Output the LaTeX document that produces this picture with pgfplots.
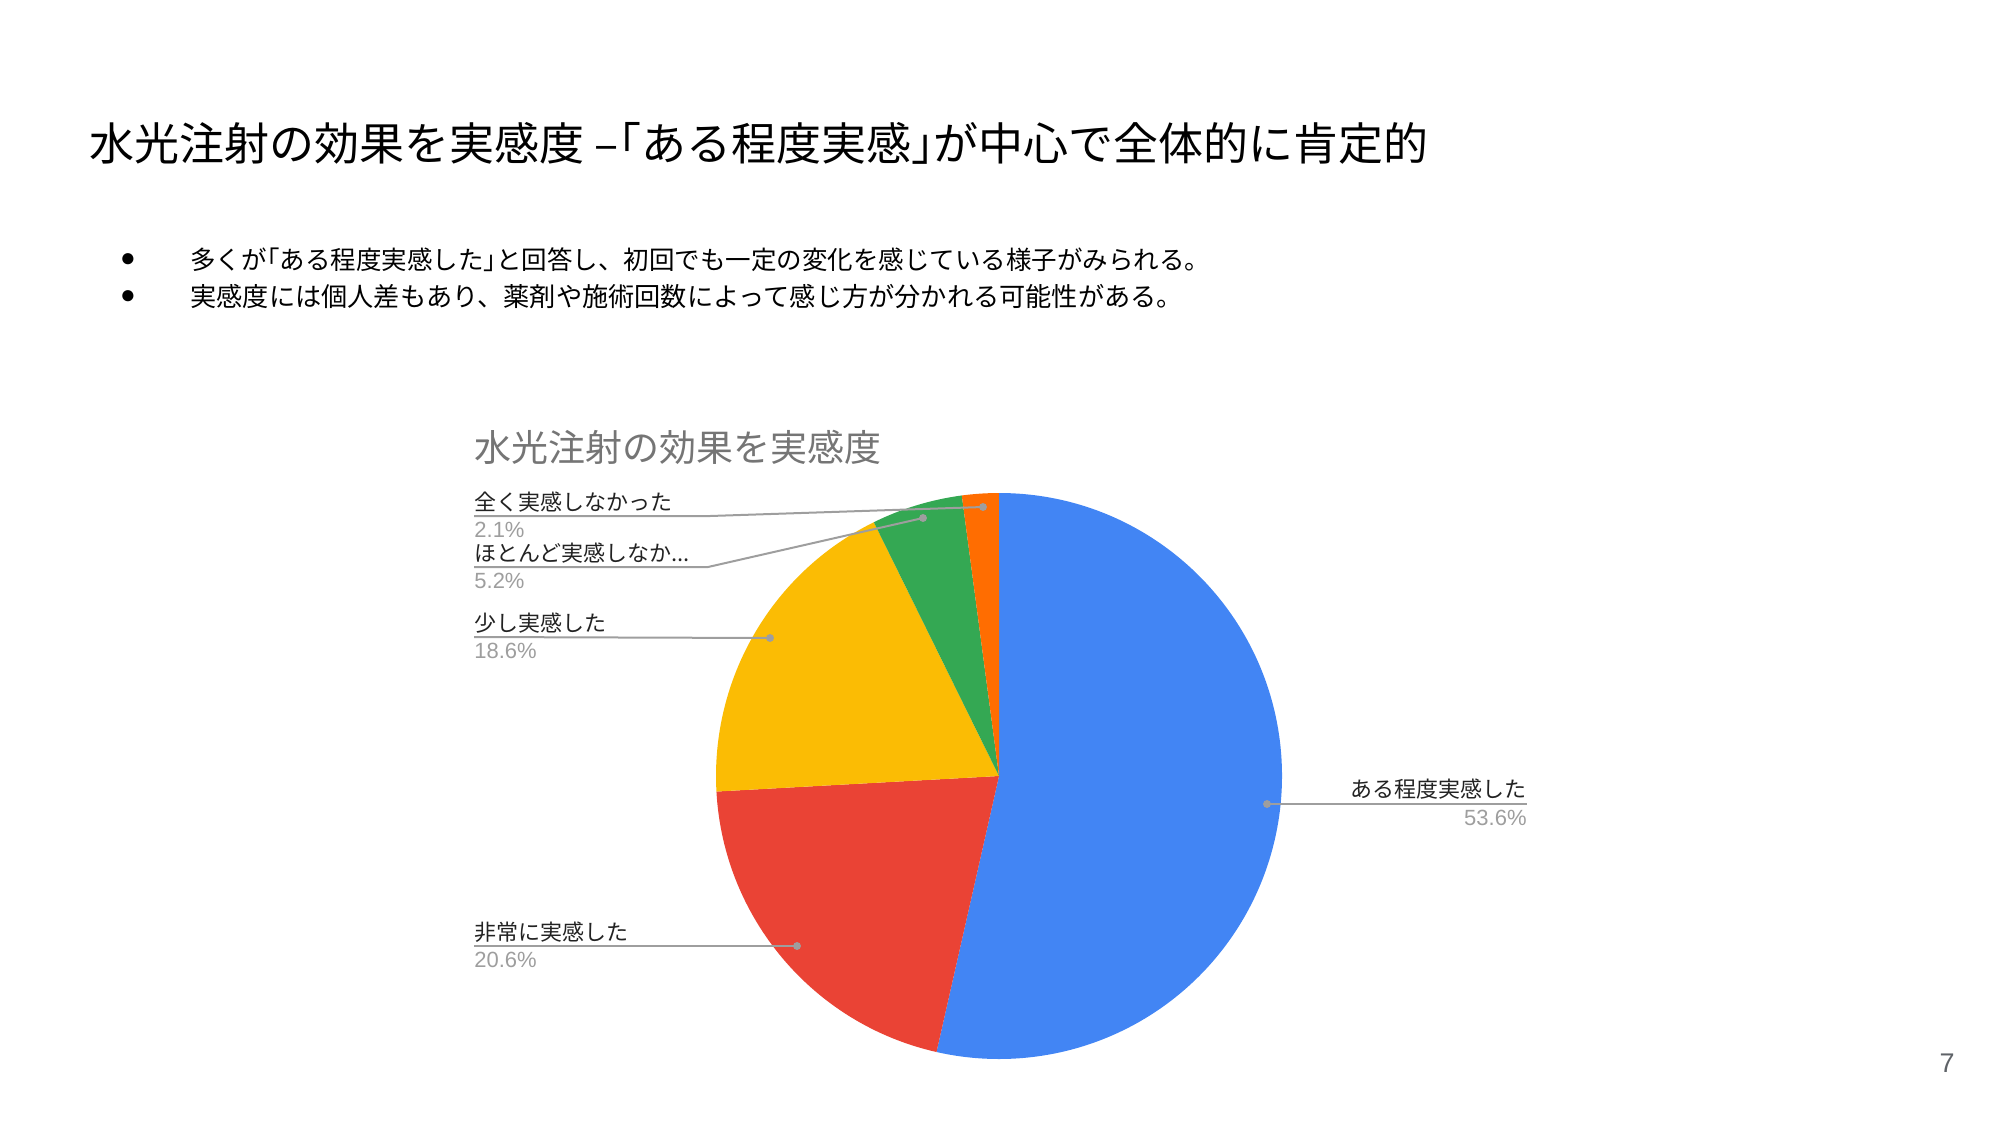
\documentclass[border=0pt]{standalone}
\usepackage{fontspec}
\setmainfont{Noto Sans CJK JP}
\newfontfamily\latinfont{Liberation Sans}
\newcommand\hw[1]{{\addfontfeatures{RawFeature=+halt}#1}}
\usepackage{pgfplots}
\usepackage{pgfplotstable}
\pgfplotsset{compat=1.18}

\definecolor{slice0}{HTML}{4285F4}
\definecolor{slice1}{HTML}{EA4335}
\definecolor{slice2}{HTML}{FBBC04}
\definecolor{slice3}{HTML}{34A853}
\definecolor{slice4}{HTML}{FF6D01}
\definecolor{leader}{HTML}{9E9E9E}
\definecolor{labeltxt}{HTML}{222222}
\definecolor{pcttxt}{HTML}{9E9E9E}
\definecolor{ctitle}{HTML}{757575}
\definecolor{pagenum}{HTML}{5F6368}

% share of answers, clockwise from 12 o'clock
\pgfplotstableread{
val
53.6
20.6
18.6
5.2
2.1
}\piedata

\begin{document}
\begin{tikzpicture}
\begin{axis}[
    width=1000pt, height=562.5pt, scale only axis,
    xmin=0, xmax=2000, ymin=0, ymax=1125,
    y dir=reverse, hide axis, clip=false]

% pie slices
\pgfmathsetmacro\cum{90}
\pgfplotsforeachungrouped \i in {0,...,4}{%
  \pgfplotstablegetelem{\i}{val}\of\piedata
  \pgfmathsetmacro\sliceang{\pgfplotsretval/100.1*360}
  \pgfmathsetmacro\endang{\cum-\sliceang}
  \edef\temp{\noexpand\fill[slice\i] (axis cs:999,776) -- ++(\cum:141.5pt)
    arc[start angle=\cum, end angle=\endang, radius=141.5pt] -- cycle;}
  \temp
  \global\let\cum\endang
}

% leader lines
\addplot[leader, line width=1pt, no marks] coordinates {(474,516) (710,516) (983,507)};
\addplot[leader, line width=1pt, no marks] coordinates {(474,567) (708,567) (923,518)};
\addplot[leader, line width=1pt, no marks] coordinates {(474,637) (770,638)};
\addplot[leader, line width=1pt, no marks] coordinates {(474,946) (797,946)};
\addplot[leader, line width=1pt, no marks] coordinates {(1267,804) (1527,804)};
\addplot[leader, only marks, mark=*, mark size=1.75pt] coordinates {
    (983,507) (923,518) (770,638) (797,946) (1267,804)};

% slide title and bullets
\node[anchor=west, inner sep=0, font=\fontsize{22.5}{27}\selectfont]
    at (axis cs:89,143) {水光注射の効果を実感度 –\hw{「}ある程度実感\hw{」}が中心で全体的に肯定的};
\node[inner sep=0, font=\latinfont\fontsize{13}{15}\selectfont] at (axis cs:128,260) {●};
\node[inner sep=0, font=\latinfont\fontsize{13}{15}\selectfont] at (axis cs:128,297) {●};
\node[anchor=west, inner sep=0, font=\fontsize{12.75}{16}\selectfont]
    at (axis cs:190,260) {多くが\hw{「}ある程度実感した\hw{」}と回答し、初回でも一定の変化を感じている様子がみられる。};
\node[anchor=west, inner sep=0, font=\fontsize{13.1}{16}\selectfont]
    at (axis cs:190,297) {実感度には個人差もあり、薬剤や施術回数によって感じ方が分かれる可能性がある。};

% chart title
\node[anchor=west, inner sep=0, text=ctitle, font=\fontsize{18.5}{22}\selectfont]
    at (axis cs:474,447) {水光注射の効果を実感度};

% slice labels
\begin{scope}[every node/.style={inner sep=0, font=\fontsize{11}{13}\selectfont}]
\node[anchor=west, text=labeltxt] at (axis cs:474,502) {全く実感しなかった};
\node[anchor=west, text=pcttxt, font=\latinfont\fontsize{11}{13}\selectfont] at (axis cs:474,530) {2.1\%};
\node[anchor=west, text=labeltxt] at (axis cs:474,553) {ほとんど実感しなか...};
\node[anchor=west, text=pcttxt, font=\latinfont\fontsize{11}{13}\selectfont] at (axis cs:474,581) {5.2\%};
\node[anchor=west, text=labeltxt] at (axis cs:474,623) {少し実感した};
\node[anchor=west, text=pcttxt, font=\latinfont\fontsize{11}{13}\selectfont] at (axis cs:474,651) {18.6\%};
\node[anchor=west, text=labeltxt] at (axis cs:474,932) {非常に実感した};
\node[anchor=west, text=pcttxt, font=\latinfont\fontsize{11}{13}\selectfont] at (axis cs:474,960) {20.6\%};
\node[anchor=east, text=labeltxt] at (axis cs:1527,789) {ある程度実感した};
\node[anchor=east, text=pcttxt, font=\latinfont\fontsize{11}{13}\selectfont] at (axis cs:1527,818) {53.6\%};
\end{scope}

% page number
\node[inner sep=0, text=pagenum, font=\latinfont\fontsize{13.5}{16}\selectfont] at (axis cs:1947,1063) {7};
\end{axis}
\pgfresetboundingbox
\path[use as bounding box] (current axis.south west) rectangle (current axis.north east);
\end{tikzpicture}
\end{document}
